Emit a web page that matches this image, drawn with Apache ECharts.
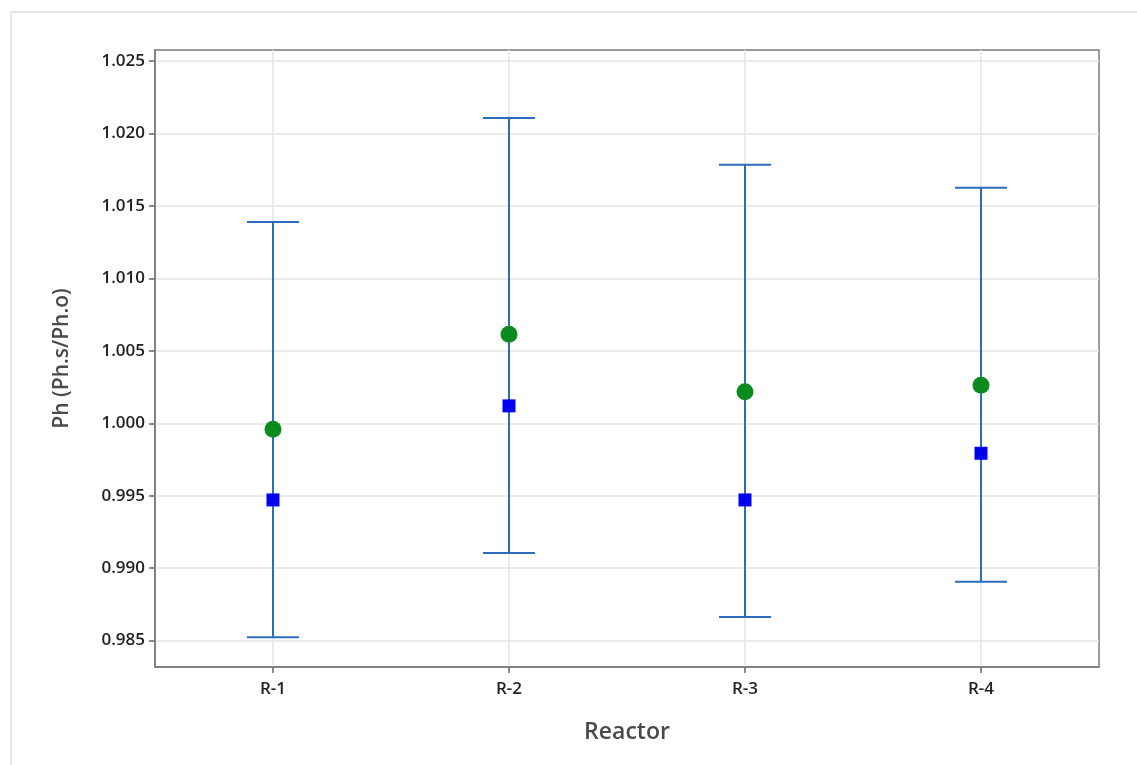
<!DOCTYPE html>
<html>
<head>
<meta charset="utf-8">
<title>Reactor interval plot</title>
<script src="https://cdn.jsdelivr.net/npm/echarts@6/dist/echarts.min.js"></script>
<style>
  html, body { margin: 0; padding: 0; background: #fff; }
  #main { width: 1137px; height: 765px; }
</style>
</head>
<body>
<div id="main"></div>
<script>
// data
var reactors = ['R-1', 'R-2', 'R-3', 'R-4'];
var upper = [1.01389, 1.02107, 1.01784, 1.01626];
var lower = [0.98523, 0.99105, 0.98663, 0.98907];
var meanGreen = [0.99959, 1.00614, 1.00218, 1.00262];
var meanBlue = [0.99471, 1.00120, 0.99471, 0.99793];
var yTicks = [0.985, 0.990, 0.995, 1.000, 1.005, 1.010, 1.015, 1.020, 1.025];
var xTicks = [0, 1, 2, 3];

var myChart = echarts.init(document.getElementById('main'));

var barData = reactors.map(function (r, i) { return [i, lower[i], upper[i]]; });
var greenData = reactors.map(function (r, i) { return [i, meanGreen[i]]; });
var blueData = reactors.map(function (r, i) { return [i, meanBlue[i]]; });

var font = '"Open Sans", "Noto Sans", sans-serif';

var option = {
    animation: false,
    backgroundColor: '#fff',
    graphic: [{
        type: 'rect',
        shape: { x: 11, y: 12, width: 1200, height: 800 },
        style: { fill: 'none', stroke: '#dedede', lineWidth: 1.5 },
        silent: true
    }],
    grid: {
        left: 155, top: 50, right: 38, bottom: 98,
        show: true, borderColor: '#7a7a7a', borderWidth: 1.5
    },
    xAxis: {
        type: 'value',
        min: -0.5,
        max: 3.5,
        name: 'Reactor',
        nameLocation: 'middle',
        nameGap: 54,
        nameTextStyle: { fontFamily: font, fontSize: 23, fontWeight: 600, color: '#4a4a4a' },
        axisLine: { show: true, onZero: false, lineStyle: { color: '#7a7a7a', width: 1.5 } },
        axisTick: { show: true, inside: false, length: 6, customValues: xTicks, lineStyle: { color: '#666', width: 1.5 } },
        axisLabel: {
            customValues: xTicks,
            margin: 14,
            fontFamily: font, fontSize: 17, fontWeight: 600, color: '#222',
            formatter: function (v) { return reactors[Math.round(v)]; }
        },
        splitLine: { show: true, lineStyle: { color: '#e4e4e4', width: 1.5 } }
    },
    yAxis: {
        type: 'value',
        min: 0.98318,
        max: 1.02576,
        name: 'Ph (Ph.s/Ph.o)',
        nameLocation: 'middle',
        nameGap: 82,
        nameTextStyle: { fontFamily: font, fontSize: 21, fontWeight: 600, color: '#4a4a4a' },
        axisLine: { show: true, onZero: false, lineStyle: { color: '#7a7a7a', width: 1.5 } },
        axisTick: { show: true, inside: false, length: 6, customValues: yTicks, lineStyle: { color: '#666', width: 1.5 } },
        axisLabel: {
            customValues: yTicks,
            margin: 10,
            fontFamily: font, fontSize: 17, fontWeight: 600, color: '#222',
            formatter: function (v) { return v.toFixed(3); }
        },
        splitLine: { show: true, lineStyle: { color: '#e4e4e4', width: 1.5 } }
    },
    series: [
        {
            name: 'interval',
            type: 'custom',
            data: barData,
            renderItem: function (params, api) {
                var x = api.value(0);
                var top = api.coord([x, api.value(2)]);
                var bot = api.coord([x, api.value(1)]);
                var half = 26;
                var st = { stroke: '#2a6ebb', lineWidth: 2 };
                return {
                    type: 'group',
                    children: [
                        { type: 'line', shape: { x1: top[0], y1: top[1], x2: bot[0], y2: bot[1] }, style: st },
                        { type: 'line', shape: { x1: top[0] - half, y1: top[1], x2: top[0] + half, y2: top[1] }, style: st },
                        { type: 'line', shape: { x1: bot[0] - half, y1: bot[1], x2: bot[0] + half, y2: bot[1] }, style: st }
                    ]
                };
            },
            z: 2
        },
        {
            name: 'mean 1',
            type: 'scatter',
            data: greenData,
            symbol: 'circle',
            symbolSize: 17,
            itemStyle: { color: '#0b8a1e', opacity: 1 },
            z: 3
        },
        {
            name: 'mean 2',
            type: 'scatter',
            data: blueData,
            symbol: 'rect',
            symbolSize: 13,
            itemStyle: { color: '#0000ee', opacity: 1 },
            z: 3
        }
    ]
};

myChart.setOption(option);
</script>
</body>
</html>
